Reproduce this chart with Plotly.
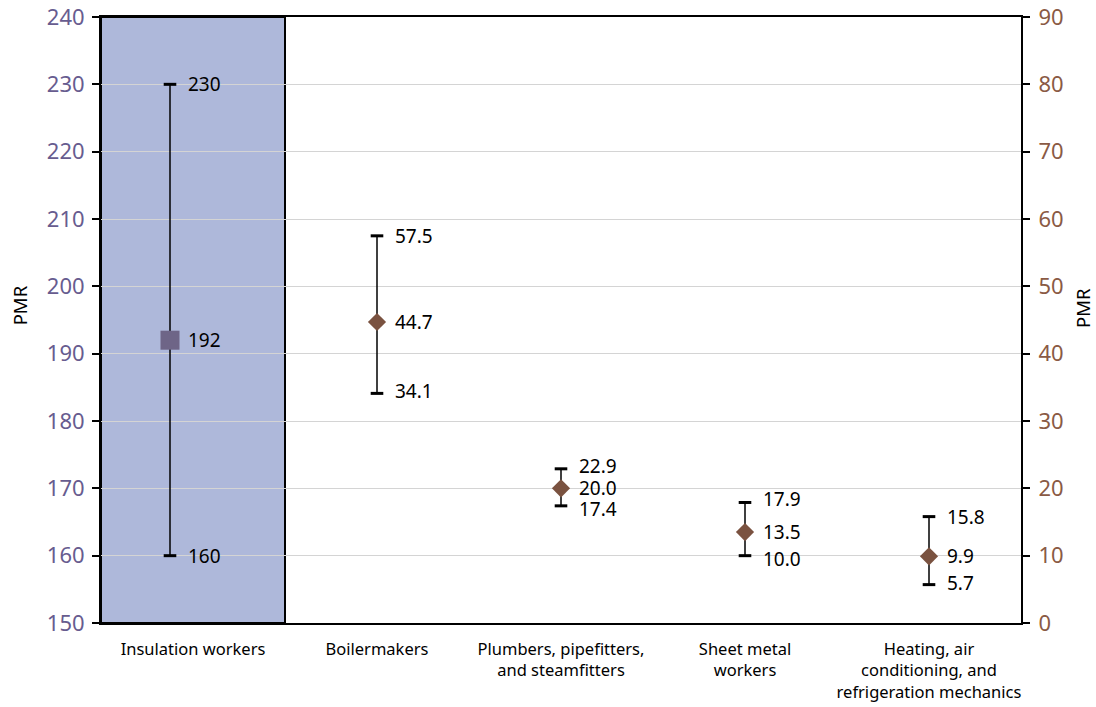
import plotly.graph_objects as go

categories = ["Insulation workers", "Boilermakers", "Plumbers, pipefitters,<br>and steamfitters",
              "Sheet metal<br>workers", "Heating, air<br>conditioning, and<br>refrigeration mechanics"]
cat_pos = [0, 1, 2, 3, 4]

# Insulation workers (left axis)
ins_x = [-0.125]
ins_pmr = [192]
ins_low = [160]
ins_high = [230]

# Other trades (right axis)
oth_x = [1, 2, 3, 4]
oth_pmr = [44.7, 20.0, 13.5, 9.9]
oth_low = [34.1, 17.4, 10.0, 5.7]
oth_high = [57.5, 22.9, 17.9, 15.8]

FONT = "Noto Sans"
fig = go.Figure()

fig.add_shape(type="rect", xref="x", yref="paper", x0=-0.5, x1=0.5, y0=0, y1=1,
              fillcolor="#AEB8DA", line=dict(color="black", width=2), layer="below")

fig.add_trace(go.Scatter(
    x=ins_x, y=ins_pmr, mode="markers", yaxis="y",
    marker=dict(symbol="square", size=19, color="#6E6587"),
    error_y=dict(type="data", symmetric=False,
                 array=[h - v for h, v in zip(ins_high, ins_pmr)],
                 arrayminus=[v - l for v, l in zip(ins_pmr, ins_low)],
                 color="black", thickness=1.5, width=0),
    showlegend=False))
fig.add_trace(go.Scatter(
    x=ins_x * 2, y=ins_low + ins_high, mode="markers", yaxis="y",
    marker=dict(symbol="line-ew", size=9, line=dict(color="black", width=3)),
    showlegend=False))

fig.add_trace(go.Scatter(
    x=oth_x, y=oth_pmr, mode="markers", yaxis="y2",
    marker=dict(symbol="diamond", size=14, color="#7A5240"),
    error_y=dict(type="data", symmetric=False,
                 array=[h - v for h, v in zip(oth_high, oth_pmr)],
                 arrayminus=[v - l for v, l in zip(oth_pmr, oth_low)],
                 color="black", thickness=1.5, width=0),
    showlegend=False))
fig.add_trace(go.Scatter(
    x=oth_x * 2, y=oth_low + oth_high, mode="markers", yaxis="y2",
    marker=dict(symbol="line-ew", size=9, line=dict(color="black", width=3)),
    showlegend=False))

LBL = dict(family=FONT, size=19, color="black")
ann = []
for x, v, lo, hi in zip(ins_x, ins_pmr, ins_low, ins_high):
    for val in (v, lo, hi):
        ann.append(dict(x=x, y=val, xref="x", yref="y", text=f"{val:d}", showarrow=False,
                        xanchor="left", yanchor="middle", xshift=16, font=LBL))
for i, (x, v, lo, hi) in enumerate(zip(oth_x, oth_pmr, oth_low, oth_high)):
    tight = (hi - lo) < 8
    for val, ys in ((v, 0), (lo, -3 if tight else 2), (hi, 3 if tight else 0)):
        ann.append(dict(x=x, y=val, xref="x", yref="y2", text=f"{val:.1f}", showarrow=False,
                        xanchor="left", yanchor="middle", xshift=16, yshift=ys, font=LBL))

# axis titles
TTL = dict(family=FONT, size=18.5, color="black")
ann.append(dict(x=-0.0886, y=0.525, xref="paper", yref="paper", text="PMR", showarrow=False,
                textangle=-90, font=TTL, xanchor="center", yanchor="middle"))
ann.append(dict(x=1.0675, y=0.52, xref="paper", yref="paper", text="PMR", showarrow=False,
                textangle=-90, font=TTL, xanchor="center", yanchor="middle"))

fig.update_layout(
    width=1096, height=707,
    margin=dict(l=101, r=75, t=17, b=84, autoexpand=False),
    plot_bgcolor="white", paper_bgcolor="white",
    font=dict(family=FONT, color="black"),
    annotations=ann,
    xaxis=dict(range=[-0.5, 4.5], tickvals=cat_pos, ticktext=categories, automargin=False,
               showgrid=False, zeroline=False, showline=True, linecolor="black",
               linewidth=2, mirror=True, ticks="", ticklabelstandoff=10,
               tickfont=dict(size=16.5, color="black")),
    yaxis=dict(range=[150, 240], dtick=10, showgrid=True, gridcolor="#D4D4D4", gridwidth=1,
               automargin=False, ticklabeloverflow="allow",
               zeroline=False, showline=True, linecolor="black", linewidth=2,
               ticks="outside", ticklen=7, tickcolor="black", tickwidth=1.5,
               ticklabelstandoff=3,
               tickfont=dict(size=22, color="#675C8F")),
    yaxis2=dict(range=[0, 90], dtick=10, overlaying="y", side="right", showgrid=False,
                automargin=False, ticklabeloverflow="allow",
                zeroline=False, showline=True, linecolor="black", linewidth=2,
                ticks="outside", ticklen=7, tickcolor="black", tickwidth=1.5,
                ticklabelstandoff=4,
                tickfont=dict(size=22, color="#8A5A44")),
)

fig.write_html("out.html", config={"displayModeBar": False},
               post_script="document.body.style.margin='0';document.body.style.overflow='hidden';")
